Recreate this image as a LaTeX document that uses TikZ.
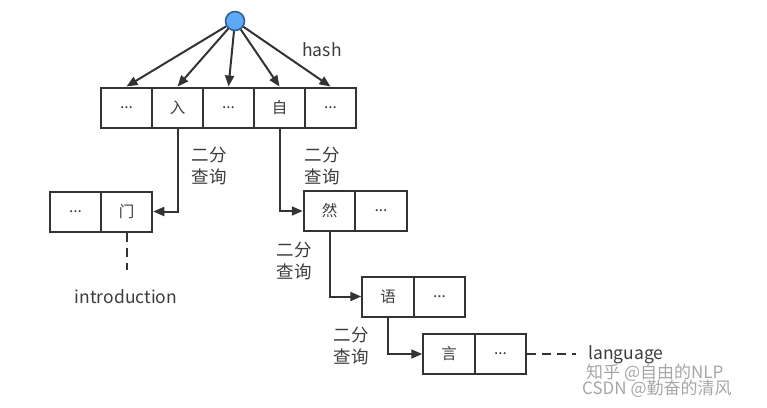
\documentclass[tikz,border=0pt]{standalone}
\usepackage{fontspec}
\setmainfont{Noto Sans CJK SC}
\usetikzlibrary{arrows.meta}
\definecolor{ink}{HTML}{333333}
\definecolor{txt}{HTML}{3C3C3C}
\definecolor{nodeblue}{HTML}{5DA9F6}
\definecolor{nodeedge}{HTML}{2B5C93}
\tikzset{
  cell/.style={draw=ink, line width=2pt, minimum width=51.5pt, minimum height=40pt, inner sep=0pt, text=txt, font=\fontsize{15.5}{15.5}\selectfont},
  arr/.style={draw=ink, line width=2pt, -{Triangle[length=11pt,width=9pt]}},
  lbl/.style={text=txt, font=\fontsize{17.5}{22}\selectfont, inner sep=0pt},
  dash line/.style={draw=ink, line width=2pt, dash pattern=on 9pt off 6pt},
  wm/.style={text=black!35, font=\fontsize{17}{17}\selectfont, inner sep=0pt}
}
\begin{document}
\begin{tikzpicture}[x=1pt,y=-1pt]
\useasboundingbox (0,0) rectangle (767,407);
% root
\node[circle, draw=nodeedge, fill=nodeblue, line width=1.5pt, minimum size=19pt, inner sep=0pt] (root) at (235,21) {};
% top row
\node[cell] (t1) at (126.5,107.5) {...};
\node[cell] (t2) at (177.5,107.5) {入};
\node[cell] (t3) at (228.5,107.5) {...};
\node[cell] (t4) at (279.5,107.5) {自};
\node[cell] (t5) at (330.5,107.5) {...};
\foreach \c in {t1,t2,t3,t4,t5} \draw[arr] (root) -- (\c.north);
\node[lbl] (hash) at (322,50) {hash};
% left box
\node[cell] (l1) at (75.5,211.5) {...};
\node[cell] (men) at (126.5,211.5) {门};
\draw[arr] (t2.south) |- (men.east);
\node[lbl, align=left] (q1) at (209,166) {二分\\查询};
\coordinate (introend) at (126.5,270);
\draw[dash line] (men.south) -- (introend);
\node[lbl] (intro) at (126,297) {introduction};
% ran box
\node[cell] (ran) at (329.5,211) {然};
\node[cell] (r2) at (381,211) {...};
\draw[arr] (t4.south) |- (ran.west);
\node[lbl, align=left] (q2) at (322,166) {二分\\查询};
% yu box
\node[cell] (yu) at (388,296.5) {语};
\node[cell] (y2) at (439.5,296.5) {...};
\draw[arr] (ran.south) |- (yu.west);
\node[lbl, align=left] (q3) at (294,261) {二分\\查询};
% yan box
\node[cell] (yan) at (449,354) {言};
\node[cell] (n2) at (500.5,354) {...};
\draw[arr] (yu.south) |- (yan.west);
\node[lbl, align=left] (q4) at (351,346) {二分\\查询};
\coordinate (langend) at (576,354);
\draw[dash line] (n2.east) -- (langend);
\node[lbl, anchor=west] (lang) at (588,355) {language};
% watermark
\node[wm, anchor=west] (wm1) at (586,373) {知乎 @自由的NLP};
\node[wm, anchor=west] (wm2) at (582,389) {CSDN @勤奋的清风};
\end{tikzpicture}
\end{document}
